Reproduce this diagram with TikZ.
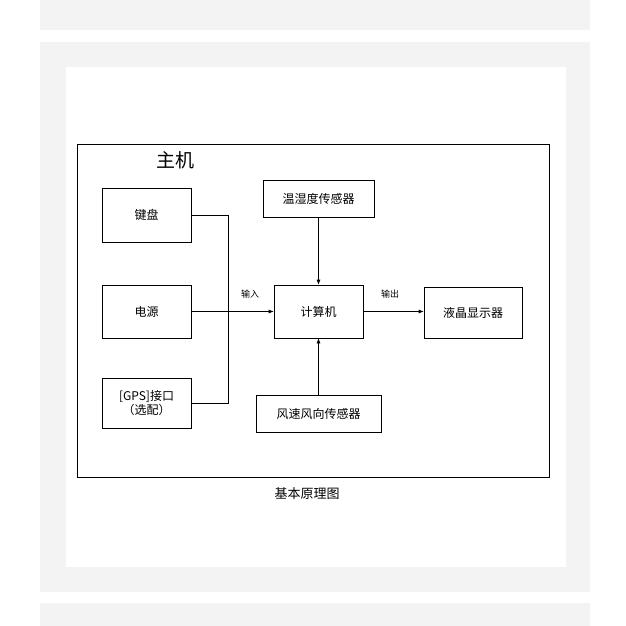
\documentclass[tikz,border=0pt]{standalone}
\usepackage{fontspec}
\setmainfont{Noto Sans CJK SC}
\usetikzlibrary{arrows.meta}
\definecolor{panel}{HTML}{F3F3F3}
\begin{document}
\begin{tikzpicture}[x=1pt,y=-1pt,
  blk/.style={draw,line width=0.6pt,inner sep=0pt,font=\fontsize{12}{14}\selectfont,align=center},
  lbl/.style={font=\fontsize{9}{10}\selectfont},
  arr/.style={-{Latex[length=5pt,width=4pt]},line width=0.6pt},
  ln/.style={line width=0.6pt}]
\useasboundingbox (0,0) rectangle (626,625);
\fill[white] (0,0) rectangle (626,625);
\fill[panel] (40,-5) rectangle (590,30);
\fill[panel] (40,42) rectangle (590,592);
\fill[panel] (40,603) rectangle (590,630);
\fill[white] (66,67) rectangle (566,567);
\draw[line width=0.8pt] (77,144) rectangle (549,477);
\node[font=\fontsize{19}{22}\selectfont] (zj) at (175,160) {主机};
\node[blk,minimum width=89pt,minimum height=54pt] (kb) at (146.5,215) {键盘};
\node[blk,minimum width=89pt,minimum height=53pt] (pw) at (146.5,311.5) {电源};
\node[blk,minimum width=89pt,minimum height=50pt] (gps) at (146.5,403) {[GPS]接口\\（选配）};
\node[blk,minimum width=111pt,minimum height=37pt] (th) at (318.5,198.5) {温湿度传感器};
\node[blk,minimum width=89pt,minimum height=53pt] (pc) at (318.5,311.5) {计算机};
\node[blk,minimum width=125pt,minimum height=37pt] (ws) at (318.5,413.5) {风速风向传感器};
\node[blk,minimum width=98pt,minimum height=51pt] (lcd) at (473,312.5) {液晶显示器};
\coordinate (j) at (228,311.5);
\draw[ln] (kb.east) -| (j);
\draw[ln] (gps.east) -| (j);
\draw[arr] (pw.east) -- (pc.west);
\draw[arr] (th.south) -- (pc.north);
\draw[arr] (ws.north) -- (pc.south);
\draw[arr] (pc.east) -- (pc.east -| lcd.west);
\node[lbl] (in) at (250,294) {输入};
\node[lbl] (out) at (390,294) {输出};
\node[font=\fontsize{13}{15}\selectfont] (cap) at (307,494) {基本原理图};
\end{tikzpicture}
\end{document}
